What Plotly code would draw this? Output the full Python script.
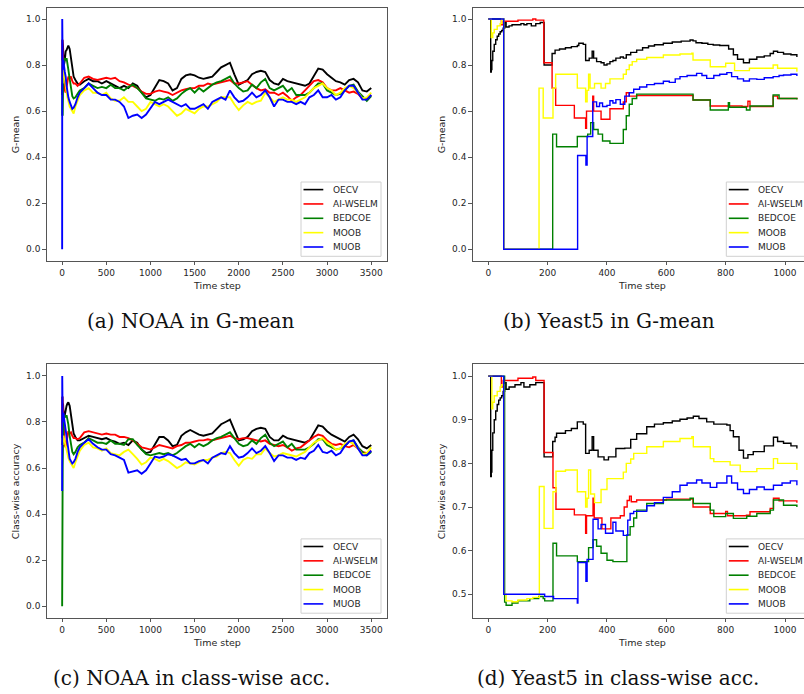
import plotly.graph_objects as go

W, H = 804, 694

NAMES = ["OECV", "AI-WSELM", "BEDCOE", "MOOB", "MUOB"]
COLORS = ["#000000", "#ff0000", "#008000", "#ffff00", "#0000ff"]

# ---------------- NOAA (time steps) ----------------
T_NOAA = [0, 1, 3, 6, 10, 15, 20, 30, 40, 50, 60, 70, 85, 100, 115, 130, 150, 175, 200] + \
         list(range(250, 3501, 50))

# (a) NOAA in G-mean
GM_NOAA_OECV = [0.67, 0.80, 0.91, 0.85, 0.88, 0.83, 0.80, 0.82, 0.86, 0.865, 0.88, 0.885, 0.87, 0.83, 0.78, 0.75, 0.735, 0.72, 0.715,
    0.73, 0.74, 0.73, 0.73, 0.72, 0.73, 0.72, 0.71, 0.70, 0.71,
    0.70, 0.72, 0.71, 0.68, 0.66, 0.67, 0.70, 0.735, 0.73, 0.72,
    0.69, 0.70, 0.74, 0.755, 0.76, 0.755, 0.745, 0.74, 0.745, 0.75,
    0.77, 0.79, 0.80, 0.81, 0.76, 0.715, 0.725, 0.735, 0.76, 0.77,
    0.775, 0.77, 0.735, 0.72, 0.715, 0.74, 0.73, 0.725, 0.72, 0.715,
    0.71, 0.72, 0.75, 0.785, 0.78, 0.76, 0.745, 0.73, 0.725, 0.715,
    0.735, 0.74, 0.725, 0.69, 0.685, 0.70]
GM_NOAA_AIWSELM = [0.70, 0.80, 0.91, 0.86, 0.84, 0.80, 0.72, 0.69, 0.68, 0.70, 0.73, 0.75, 0.74, 0.75, 0.73, 0.72, 0.72, 0.71, 0.72,
    0.745, 0.75, 0.74, 0.735, 0.74, 0.745, 0.74, 0.745, 0.73, 0.725,
    0.715, 0.71, 0.70, 0.685, 0.675, 0.675, 0.685, 0.69, 0.685, 0.68,
    0.67, 0.68, 0.69, 0.695, 0.70, 0.70, 0.71, 0.71, 0.72, 0.715,
    0.72, 0.725, 0.73, 0.735, 0.72, 0.72, 0.725, 0.73, 0.715, 0.70,
    0.69, 0.695, 0.68, 0.68, 0.67, 0.68, 0.665, 0.645, 0.66, 0.67,
    0.69, 0.71, 0.73, 0.735, 0.725, 0.70, 0.69, 0.69, 0.70, 0.69,
    0.68, 0.685, 0.675, 0.655, 0.655, 0.67]
GM_NOAA_BEDCOE = [0.58, 0.75, 0.75, 0.58, 0.70, 0.80, 0.82, 0.83, 0.82, 0.83, 0.81, 0.78, 0.74, 0.70, 0.665, 0.655, 0.66, 0.675, 0.69,
    0.70, 0.72, 0.71, 0.70, 0.705, 0.70, 0.715, 0.70, 0.70, 0.69,
    0.705, 0.715, 0.70, 0.68, 0.655, 0.65, 0.645, 0.655, 0.65, 0.66,
    0.645, 0.655, 0.675, 0.69, 0.70, 0.68, 0.70, 0.685, 0.70, 0.715,
    0.725, 0.73, 0.74, 0.75, 0.72, 0.70, 0.685, 0.69, 0.715, 0.70,
    0.725, 0.74, 0.70, 0.69, 0.70, 0.71, 0.685, 0.70, 0.67, 0.67,
    0.67, 0.68, 0.70, 0.72, 0.72, 0.69, 0.68, 0.67, 0.675, 0.69,
    0.71, 0.715, 0.685, 0.665, 0.645, 0.665]
GM_NOAA_MOOB = [0.82, 0.82, 0.80, 0.72, 0.78, 0.80, 0.78, 0.74, 0.70, 0.68, 0.66, 0.64, 0.62, 0.61, 0.60, 0.59, 0.62, 0.65, 0.67,
    0.69, 0.70, 0.68, 0.68, 0.67, 0.68, 0.655, 0.645, 0.645, 0.66,
    0.64, 0.64, 0.62, 0.60, 0.61, 0.64, 0.63, 0.62, 0.63, 0.62,
    0.60, 0.58, 0.59, 0.61, 0.60, 0.59, 0.61, 0.62, 0.62, 0.63,
    0.64, 0.66, 0.66, 0.66, 0.63, 0.605, 0.625, 0.64, 0.63, 0.64,
    0.645, 0.68, 0.66, 0.64, 0.65, 0.66, 0.65, 0.65, 0.64, 0.65,
    0.66, 0.68, 0.70, 0.71, 0.72, 0.70, 0.69, 0.67, 0.68, 0.70,
    0.71, 0.70, 0.68, 0.655, 0.66, 0.68]
GM_NOAA_MUOB = [0.0, 1.0, 0.45, 0.80, 0.78, 0.82, 0.80, 0.77, 0.75, 0.71, 0.68, 0.66, 0.64, 0.62, 0.61, 0.615, 0.63, 0.66, 0.68,
    0.70, 0.72, 0.70, 0.68, 0.67, 0.67, 0.65, 0.65, 0.64, 0.62,
    0.57, 0.58, 0.585, 0.57, 0.585, 0.61, 0.64, 0.63, 0.64, 0.65,
    0.64, 0.63, 0.62, 0.63, 0.61, 0.61, 0.62, 0.63, 0.61, 0.64,
    0.65, 0.66, 0.65, 0.69, 0.66, 0.64, 0.645, 0.66, 0.68, 0.66,
    0.67, 0.69, 0.66, 0.62, 0.65, 0.65, 0.64, 0.64, 0.63, 0.64,
    0.63, 0.66, 0.67, 0.69, 0.66, 0.66, 0.67, 0.65, 0.66, 0.69,
    0.71, 0.71, 0.68, 0.65, 0.65, 0.67]

# (c) NOAA in class-wise accuracy
CA_NOAA_OECV = [0.70, 0.85, 0.91, 0.86, 0.88, 0.84, 0.81, 0.83, 0.86, 0.87, 0.88, 0.885, 0.87, 0.83, 0.78, 0.75, 0.735, 0.72, 0.72,
    0.73, 0.74, 0.735, 0.73, 0.725, 0.73, 0.72, 0.715, 0.705, 0.71,
    0.70, 0.72, 0.71, 0.68, 0.665, 0.67, 0.70, 0.735, 0.735, 0.72,
    0.695, 0.70, 0.74, 0.755, 0.765, 0.755, 0.745, 0.74, 0.745, 0.75,
    0.77, 0.79, 0.80, 0.81, 0.765, 0.72, 0.725, 0.735, 0.76, 0.77,
    0.775, 0.77, 0.735, 0.72, 0.72, 0.74, 0.73, 0.725, 0.72, 0.715,
    0.71, 0.72, 0.75, 0.785, 0.78, 0.76, 0.745, 0.735, 0.725, 0.715,
    0.735, 0.745, 0.725, 0.695, 0.685, 0.70]
CA_NOAA_AIWSELM = [0.75, 0.85, 0.91, 0.87, 0.85, 0.81, 0.74, 0.70, 0.69, 0.71, 0.74, 0.76, 0.75, 0.755, 0.74, 0.73, 0.73, 0.725, 0.73,
    0.755, 0.76, 0.755, 0.75, 0.745, 0.75, 0.745, 0.745, 0.735, 0.735,
    0.73, 0.72, 0.705, 0.69, 0.685, 0.68, 0.69, 0.70, 0.695, 0.69,
    0.685, 0.695, 0.70, 0.71, 0.71, 0.715, 0.72, 0.72, 0.725, 0.72,
    0.725, 0.73, 0.735, 0.74, 0.73, 0.725, 0.73, 0.73, 0.725, 0.72,
    0.715, 0.72, 0.705, 0.70, 0.695, 0.70, 0.69, 0.675, 0.685, 0.69,
    0.705, 0.72, 0.735, 0.745, 0.74, 0.72, 0.705, 0.70, 0.705, 0.695,
    0.69, 0.70, 0.685, 0.67, 0.665, 0.675]
CA_NOAA_BEDCOE = [0.0, 0.5, 0.25, 0.61, 0.72, 0.80, 0.82, 0.83, 0.82, 0.83, 0.815, 0.79, 0.74, 0.70, 0.67, 0.66, 0.67, 0.69, 0.70,
    0.71, 0.73, 0.72, 0.71, 0.71, 0.705, 0.72, 0.705, 0.705, 0.70,
    0.725, 0.725, 0.70, 0.68, 0.66, 0.655, 0.66, 0.665, 0.66, 0.665,
    0.655, 0.665, 0.68, 0.695, 0.705, 0.69, 0.705, 0.695, 0.705, 0.72,
    0.73, 0.735, 0.745, 0.755, 0.73, 0.705, 0.695, 0.70, 0.72, 0.705,
    0.73, 0.745, 0.71, 0.695, 0.705, 0.715, 0.69, 0.705, 0.68, 0.68,
    0.68, 0.69, 0.705, 0.725, 0.725, 0.70, 0.69, 0.68, 0.685, 0.695,
    0.715, 0.72, 0.69, 0.67, 0.655, 0.67]
CA_NOAA_MOOB = [0.73, 0.73, 0.72, 0.70, 0.73, 0.74, 0.73, 0.71, 0.69, 0.68, 0.66, 0.645, 0.63, 0.62, 0.61, 0.60, 0.625, 0.65, 0.675,
    0.70, 0.71, 0.69, 0.685, 0.675, 0.685, 0.665, 0.66, 0.655, 0.67,
    0.68, 0.66, 0.64, 0.615, 0.625, 0.645, 0.64, 0.63, 0.64, 0.63,
    0.615, 0.60, 0.61, 0.625, 0.62, 0.615, 0.625, 0.635, 0.635, 0.645,
    0.65, 0.665, 0.67, 0.665, 0.635, 0.61, 0.635, 0.645, 0.64, 0.66,
    0.66, 0.685, 0.665, 0.65, 0.655, 0.665, 0.66, 0.655, 0.65, 0.66,
    0.67, 0.69, 0.71, 0.72, 0.73, 0.71, 0.70, 0.68, 0.685, 0.705,
    0.715, 0.705, 0.685, 0.66, 0.665, 0.69]
CA_NOAA_MUOB = [0.5, 1.0, 0.60, 0.80, 0.83, 0.84, 0.82, 0.79, 0.77, 0.72, 0.69, 0.665, 0.64, 0.63, 0.62, 0.625, 0.64, 0.67, 0.69,
    0.71, 0.725, 0.705, 0.69, 0.68, 0.68, 0.66, 0.655, 0.645, 0.635,
    0.58, 0.585, 0.59, 0.575, 0.59, 0.62, 0.65, 0.645, 0.65, 0.66,
    0.655, 0.645, 0.635, 0.64, 0.62, 0.62, 0.63, 0.635, 0.62, 0.645,
    0.655, 0.665, 0.66, 0.695, 0.665, 0.645, 0.65, 0.665, 0.685, 0.665,
    0.675, 0.695, 0.665, 0.63, 0.655, 0.655, 0.645, 0.645, 0.635, 0.645,
    0.64, 0.665, 0.675, 0.70, 0.67, 0.665, 0.675, 0.655, 0.665, 0.695,
    0.715, 0.72, 0.685, 0.655, 0.655, 0.675]

# ---------------- Yeast5 (step curves, breakpoints) ----------------
# (b) Yeast5 in G-mean
GM_Y5_OECV_T = [0, 5, 8, 10, 12, 15, 20, 25, 30, 35, 40, 45, 50, 55, 60, 70, 80, 100, 110, 120, 130, 145, 160, 175,
    188, 205, 215, 225, 240, 260, 280, 300, 305, 320, 328, 340, 350, 355, 365, 380, 390, 400, 410, 420, 430, 445,
    455, 465, 480, 500, 520, 540, 560, 590, 620, 650, 680, 690, 700, 720, 740, 758, 780, 800, 810, 826, 840, 860,
    880, 905, 930, 950, 961, 975, 995, 1020, 1040]
GM_Y5_OECV_V = [1.0, 1.0, 0.77, 0.78, 0.82, 0.86, 0.89, 0.91, 0.925, 0.935, 0.945, 0.95, 0.96, 0.985, 0.965, 0.97, 0.975, 0.975, 0.98, 0.975, 0.98, 0.97, 0.98, 0.985,
    0.80, 0.80, 0.85, 0.865, 0.87, 0.875, 0.88, 0.885, 0.895, 0.89, 0.82, 0.83, 0.86, 0.83, 0.815, 0.81, 0.80, 0.805, 0.815, 0.82, 0.83, 0.835,
    0.83, 0.845, 0.855, 0.865, 0.875, 0.883, 0.888, 0.895, 0.90, 0.904, 0.909, 0.905, 0.897, 0.895, 0.89, 0.887, 0.885, 0.885, 0.87, 0.845, 0.825, 0.81,
    0.825, 0.835, 0.84, 0.85, 0.86, 0.855, 0.848, 0.845, 0.835]
GM_Y5_AIWSELM_T = [0, 44, 50, 100, 150, 160, 187, 215, 227, 290, 328, 331, 352, 355, 380, 410, 455, 465, 475, 500,
    690, 748, 855, 875, 882, 960, 975, 1040]
GM_Y5_AIWSELM_V = [1.0, 0.975, 0.99, 0.995, 1.0, 0.995, 0.81, 0.70, 0.625, 0.57, 0.525, 0.60, 0.665, 0.60, 0.565, 0.61, 0.64, 0.68, 0.665, 0.668,
    0.648, 0.622, 0.62, 0.643, 0.62, 0.665, 0.655, 0.652]
GM_Y5_BEDCOE_T = [0, 52, 217, 230, 300, 335, 345, 355, 370, 385, 410, 455, 465, 475, 485, 500, 690, 748, 809, 813,
    870, 882, 960, 980, 1040]
GM_Y5_BEDCOE_V = [1.0, 0.0, 0.50, 0.445, 0.49, 0.50, 0.55, 0.52, 0.50, 0.47, 0.46, 0.52, 0.58, 0.63, 0.655, 0.674, 0.648, 0.605, 0.637, 0.617,
    0.605, 0.622, 0.67, 0.655, 0.651]
GM_Y5_MOOB_T = [0, 8, 10, 15, 20, 30, 40, 45, 52, 171, 185, 218, 227, 300, 328, 333, 338, 343, 358, 380, 395, 410, 455,
    465, 475, 485, 500, 534, 590, 646, 686, 690, 748, 800, 830, 880, 960, 975, 1040]
GM_Y5_MOOB_V = [1.0, 1.0, 0.92, 0.94, 0.955, 0.97, 0.98, 1.0, 0.0, 0.70, 0.57, 0.70, 0.76, 0.70, 0.64, 0.69, 0.76, 0.70, 0.72, 0.70, 0.72, 0.74, 0.76,
    0.78, 0.80, 0.815, 0.825, 0.833, 0.844, 0.848, 0.851, 0.822, 0.793, 0.808, 0.776, 0.786, 0.80, 0.786, 0.771]
GM_Y5_MUOB_T = [0, 52, 301, 329, 333, 352, 365, 375, 385, 400, 410, 420, 430, 445, 460, 475, 490, 510, 534, 560, 590,
    610, 630, 646, 670, 702, 720, 736, 760, 780, 804, 820, 840, 860, 880, 905, 930, 960, 980, 995, 1020, 1040]
GM_Y5_MUOB_V = [1.0, 0.0, 0.407, 0.366, 0.49, 0.64, 0.62, 0.635, 0.62, 0.625, 0.645, 0.635, 0.65, 0.63, 0.665, 0.68, 0.695, 0.705, 0.715, 0.72, 0.73,
    0.725, 0.74, 0.75, 0.755, 0.764, 0.755, 0.742, 0.755, 0.76, 0.767, 0.75, 0.74, 0.731, 0.74, 0.738, 0.745, 0.75, 0.755, 0.757, 0.76, 0.752]

# (d) Yeast5 in class-wise accuracy
CA_Y5_OECV_T = [0, 5, 8, 10, 12, 15, 20, 25, 30, 35, 40, 45, 50, 55, 60, 70, 90, 110, 120, 140, 160, 188, 205, 217,
    225, 230, 260, 280, 300, 320, 328, 340, 350, 355, 370, 390, 405, 430, 460, 480, 500, 534, 560, 590, 620, 646,
    670, 691, 710, 736, 760, 804, 815, 826, 845, 860, 875, 893, 930, 961, 975, 995, 1020, 1040]
CA_Y5_OECV_V = [1.0, 1.0, 0.77, 0.78, 0.83, 0.87, 0.90, 0.92, 0.935, 0.945, 0.95, 0.955, 0.965, 0.985, 0.97, 0.975, 0.98, 0.985, 0.975, 0.98, 0.985, 0.815, 0.815, 0.85,
    0.86, 0.869, 0.875, 0.88, 0.895, 0.89, 0.823, 0.83, 0.861, 0.83, 0.815, 0.808, 0.815, 0.834, 0.835, 0.855, 0.868, 0.884, 0.89, 0.893, 0.897, 0.901,
    0.904, 0.908, 0.903, 0.895, 0.89, 0.888, 0.875, 0.861, 0.83, 0.812, 0.82, 0.827, 0.84, 0.86, 0.85, 0.846, 0.84, 0.834]
CA_Y5_AIWSELM_T = [0, 44, 50, 100, 150, 160, 188, 218, 228, 290, 328, 331, 353, 357, 383, 413, 445, 458, 468, 476, 482,
    500, 600, 690, 748, 800, 806, 870, 882, 950, 961, 980, 1040]
CA_Y5_AIWSELM_V = [1.0, 0.975, 0.99, 0.995, 0.998, 0.99, 0.825, 0.744, 0.695, 0.682, 0.64, 0.68, 0.72, 0.675, 0.65, 0.675, 0.68, 0.70, 0.715, 0.725, 0.712,
    0.716, 0.718, 0.70, 0.685, 0.69, 0.68, 0.681, 0.689, 0.697, 0.72, 0.714, 0.71]
CA_Y5_BEDCOE_T = [0, 55, 60, 80, 100, 140, 170, 185, 190, 218, 230, 300, 338, 353, 365, 380, 400, 420, 460, 467, 478,
    490, 500, 534, 590, 680, 691, 748, 760, 800, 826, 871, 905, 950, 961, 995, 1040]
CA_Y5_BEDCOE_V = [1.0, 0.482, 0.475, 0.48, 0.485, 0.49, 0.495, 0.49, 0.485, 0.617, 0.588, 0.575, 0.607, 0.625, 0.61, 0.594, 0.578, 0.575, 0.575, 0.636, 0.655,
    0.675, 0.693, 0.708, 0.716, 0.72, 0.708, 0.693, 0.678, 0.685, 0.674, 0.679, 0.685, 0.693, 0.716, 0.704, 0.70]
CA_Y5_MOOB_T = [0, 10, 12, 15, 20, 30, 40, 45, 52, 60, 80, 100, 130, 150, 172, 188, 218, 228, 260, 300, 328, 333, 338,
    345, 358, 380, 400, 455, 465, 480, 490, 534, 590, 646, 686, 691, 748, 760, 815, 849, 905, 961, 975, 1040]
CA_Y5_MOOB_V = [1.0, 1.0, 0.925, 0.94, 0.955, 0.965, 0.975, 0.98, 0.50, 0.485, 0.483, 0.487, 0.49, 0.493, 0.747, 0.651, 0.735, 0.782, 0.785, 0.735, 0.70, 0.72, 0.785,
    0.73, 0.71, 0.74, 0.765, 0.78, 0.80, 0.81, 0.823, 0.838, 0.85, 0.857, 0.861, 0.838, 0.811, 0.804, 0.796, 0.781, 0.788, 0.811, 0.80, 0.785]
CA_Y5_MUOB_T = [0, 52, 190, 220, 300, 302, 329, 333, 353, 370, 380, 395, 410, 420, 430, 455, 470, 478, 490, 534, 560,
    590, 620, 646, 670, 702, 720, 748, 770, 804, 820, 840, 860, 880, 905, 930, 961, 990, 1018, 1040]
CA_Y5_MUOB_V = [1.0, 0.5, 0.495, 0.49, 0.48, 0.573, 0.53, 0.58, 0.672, 0.65, 0.66, 0.64, 0.64, 0.665, 0.645, 0.635, 0.67, 0.685, 0.69, 0.703, 0.71,
    0.722, 0.735, 0.75, 0.755, 0.762, 0.755, 0.745, 0.755, 0.771, 0.755, 0.74, 0.731, 0.74, 0.746, 0.74, 0.75, 0.755, 0.76, 0.75]

TICKS_NOAA = [0, 500, 1000, 1500, 2000, 2500, 3000, 3500]
TICKS_Y5 = [0, 200, 400, 600, 800, 1000]
TICKS_01 = [0.0, 0.2, 0.4, 0.6, 0.8, 1.0]
TICKS_05 = [0.5, 0.6, 0.7, 0.8, 0.9, 1.0]

CAPTIONS = ["(a) NOAA in G-mean", "(b) Yeast5 in G-mean",
            "(c) NOAA in class-wise acc.", "(d) Yeast5 in class-wise acc."]
YTITLES = ["G-mean", "G-mean", "Class-wise accuracy", "Class-wise accuracy"]
XTITLE = "Time step"

# ---------------- layout geometry (pixels) ----------------
PANELS = [
    dict(L=46.7, R=386.7, T=7.5, B=260.8),
    dict(L=472.7, R=812.0, T=7.5, B=260.8),
    dict(L=46.7, R=386.7, T=364.4, B=617.7),
    dict(L=472.7, R=812.0, T=364.4, B=617.7),
]
CAP_POS = [(190, 321), (608.5, 321), (191.7, 678), (617.5, 678)]


def px(x):
    return x / W


def py(y):
    return 1 - y / H


fig = go.Figure()

noaa_gm = [GM_NOAA_OECV, GM_NOAA_AIWSELM, GM_NOAA_BEDCOE, GM_NOAA_MOOB, GM_NOAA_MUOB]
noaa_ca = [CA_NOAA_OECV, CA_NOAA_AIWSELM, CA_NOAA_BEDCOE, CA_NOAA_MOOB, CA_NOAA_MUOB]
y5_gm = [(GM_Y5_OECV_T, GM_Y5_OECV_V), (GM_Y5_AIWSELM_T, GM_Y5_AIWSELM_V), (GM_Y5_BEDCOE_T, GM_Y5_BEDCOE_V),
         (GM_Y5_MOOB_T, GM_Y5_MOOB_V), (GM_Y5_MUOB_T, GM_Y5_MUOB_V)]
y5_ca = [(CA_Y5_OECV_T, CA_Y5_OECV_V), (CA_Y5_AIWSELM_T, CA_Y5_AIWSELM_V), (CA_Y5_BEDCOE_T, CA_Y5_BEDCOE_V),
         (CA_Y5_MOOB_T, CA_Y5_MOOB_V), (CA_Y5_MUOB_T, CA_Y5_MUOB_V)]

for s in noaa_gm + noaa_ca:
    assert len(s) == len(T_NOAA), len(s)
for t, v in y5_gm + y5_ca:
    assert len(t) == len(v), (len(t), len(v))

panel_series = [
    [(T_NOAA, v) for v in noaa_gm],
    y5_gm,
    [(T_NOAA, v) for v in noaa_ca],
    y5_ca,
]

for p, series in enumerate(panel_series):
    sfx = "" if p == 0 else str(p + 1)
    shape = "linear" if p in (0, 2) else "hv"
    width = 1.9 if p in (0, 2) else 1.4
    for i, (t, v) in enumerate(series):
        fig.add_trace(go.Scatter(
            x=t, y=v, mode="lines", name=NAMES[i], showlegend=False,
            line=dict(color=COLORS[i], width=width, shape=shape),
            xaxis="x" + sfx, yaxis="y" + sfx, hoverinfo="skip"))

TICKFONT = dict(family="DejaVu Sans", size=9, color="#262626")
AXCOL = "#555555"

layout = dict(
    width=W, height=H, margin=dict(l=0, r=0, t=0, b=0),
    paper_bgcolor="white", plot_bgcolor="white", showlegend=False,
)

xranges = [[-175, 3675], [-52.6, 1064.0], [-175, 3675], [-52.6, 1064.0]]
yranges = [[-0.05, 1.05], [-0.05, 1.05], [-0.05, 1.05], [0.4464, 1.0268]]
xticks = [TICKS_NOAA, TICKS_Y5, TICKS_NOAA, TICKS_Y5]
yticks = [TICKS_01, TICKS_01, TICKS_01, TICKS_05]

for p, g in enumerate(PANELS):
    sfx = "" if p == 0 else str(p + 1)
    right_cut = p in (1, 3)
    xd = [px(g["L"]), min(1.0, px(g["R"]))]
    yd = [py(g["B"]), py(g["T"])]
    layout["xaxis" + sfx] = dict(
        domain=xd, range=xranges[p], anchor="y" + sfx, tickvals=xticks[p],
        ticktext=[str(v) for v in xticks[p]],
        showgrid=False, zeroline=False, showline=True, mirror=True,
        linecolor=AXCOL, linewidth=1, ticks="outside", ticklen=3.5, tickwidth=1,
        tickcolor=AXCOL, tickfont=TICKFONT, fixedrange=True)
    layout["yaxis" + sfx] = dict(
        domain=yd, range=yranges[p], anchor="x" + sfx, tickvals=yticks[p],
        ticktext=["%.1f" % v for v in yticks[p]],
        showgrid=False, zeroline=False, showline=True, mirror=(not right_cut),
        linecolor=AXCOL, linewidth=1, ticks="outside", ticklen=3.5, tickwidth=1,
        tickcolor=AXCOL, tickfont=TICKFONT, fixedrange=True)

fig.update_layout(**layout)

annotations = []
shapes = []
for p, g in enumerate(PANELS):
    # axis titles
    annotations.append(dict(x=px((g["L"] + g["R"]) / 2), y=py(g["B"] + 24.5), xref="paper", yref="paper",
                            text=XTITLE, showarrow=False, xanchor="center", yanchor="middle",
                            font=dict(family="DejaVu Sans", size=9.5, color="#262626")))
    annotations.append(dict(x=px(g["L"] - 31.5), y=py((g["T"] + g["B"]) / 2), xref="paper", yref="paper",
                            text=YTITLES[p], showarrow=False, textangle=-90, xanchor="center", yanchor="middle",
                            font=dict(family="DejaVu Sans", size=9.5, color="#262626")))
    # caption
    cx, cy = CAP_POS[p]
    annotations.append(dict(x=px(cx), y=py(cy), xref="paper", yref="paper", text=CAPTIONS[p],
                            showarrow=False, xanchor="center", yanchor="middle",
                            font=dict(family="DejaVu Serif", size=20, color="#111111")))
    # legend box
    R, B = g["R"], g["B"]
    shapes.append(dict(type="rect", xref="paper", yref="paper",
                       x0=px(R - 85.7), x1=px(R - 5.7), y0=py(B - 4.5), y1=py(B - 78.8),
                       line=dict(color="#d0d0d0", width=1), fillcolor="rgba(255,255,255,0.85)", layer="above"))
    for i, name in enumerate(NAMES):
        yy = B - 71.2 + i * 14.35
        shapes.append(dict(type="line", xref="paper", yref="paper",
                           x0=px(R - 83.2), x1=px(R - 63.4), y0=py(yy), y1=py(yy),
                           line=dict(color=COLORS[i], width=1.6), layer="above"))
        annotations.append(dict(x=px(R - 56.0), y=py(yy), xref="paper", yref="paper", text=name,
                                showarrow=False, xanchor="left", yanchor="middle",
                                font=dict(family="DejaVu Sans", size=9, color="#262626")))

fig.update_layout(annotations=annotations, shapes=shapes)
fig.write_html("out.html",
               config={"displayModeBar": False, "staticPlot": True},
               post_script="document.body.style.margin='0';document.body.style.padding='0';"
                           "document.documentElement.style.overflow='hidden';")
